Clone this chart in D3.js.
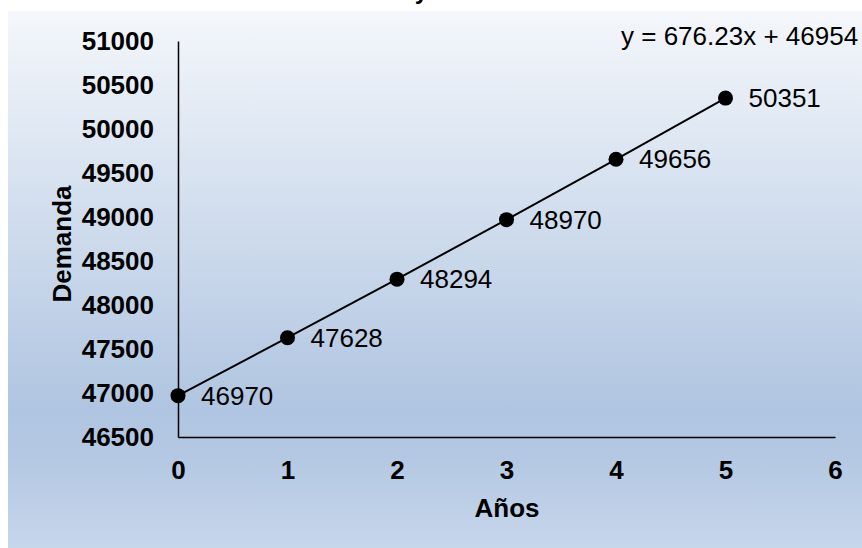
<!DOCTYPE html>
<html>
<head>
<meta charset="utf-8">
<script src="https://cdn.jsdelivr.net/npm/d3@7"></script>
<style>
  body { margin: 0; background: #ffffff; }
  svg { display: block; font-family: "Liberation Sans", Arial, sans-serif; }
</style>
</head>
<body>
<div id="chart"></div>
<script>
// Datos del gráfico
var years = [0, 1, 2, 3, 4, 5];
var demand = [46970, 47628, 48294, 48970, 49656, 50351];
var xTicks = [0, 1, 2, 3, 4, 5, 6];
var yTicks = [46500, 47000, 47500, 48000, 48500, 49000, 49500, 50000, 50500, 51000];
var titleText = "Gráfico N° 1: Proyección de la demanda";
var equationText = "y = 676.23x + 46954";
var xTitle = "Años";
var yTitle = "Demanda";

function plotChart() {
    var width = 862, height = 548;
    var plot = { left: 178, right: 835, top: 41, bottom: 437 };
    var fontSize = "26px";

    var svg = d3.select("#chart").append("svg")
      .attr("width", width)
      .attr("height", height);

    var grad = svg.append("defs").append("linearGradient")
      .attr("id", "bg")
      .attr("x1", 0).attr("y1", 0).attr("x2", 0).attr("y2", 1);
    grad.append("stop").attr("offset", "0").attr("stop-color", "#f4f7fb");
    grad.append("stop").attr("offset", "0.74").attr("stop-color", "#b0c5e1");
    grad.append("stop").attr("offset", "0.83").attr("stop-color", "#b4c8e3");
    grad.append("stop").attr("offset", "1").attr("stop-color", "#c6d6eb");

    svg.append("rect")
      .attr("x", 8).attr("y", 11)
      .attr("width", width - 8).attr("height", height - 11)
      .attr("fill", "url(#bg)");

    // title, mostly cut off by the top of the picture (as in the reference)
    svg.append("text")
      .attr("x", 450).attr("y", -1)
      .attr("text-anchor", "middle")
      .style("font-size", "24px")
      .style("font-weight", "bold")
      .text(titleText);

    var x = d3.scaleLinear().domain([0, 6]).range([plot.left, plot.right]);
    var y = d3.scaleLinear().domain([46500, 51000]).range([plot.bottom, plot.top]);

    var yAxis = svg.append("g")
      .attr("transform", "translate(" + plot.left + ",0)")
      .call(d3.axisLeft(y).tickValues(yTicks).tickSize(0).tickPadding(24)
        .tickFormat(d3.format("d")));
    yAxis.selectAll("text")
      .style("font-size", fontSize).style("font-weight", "bold")
      .attr("fill", "#000").attr("font-family", null);
    yAxis.select(".domain").attr("stroke", "#000").attr("stroke-width", 1.5);

    var xAxis = svg.append("g")
      .attr("transform", "translate(0," + plot.bottom + ")")
      .call(d3.axisBottom(x).tickValues(xTicks).tickSize(0).tickPadding(24)
        .tickFormat(d3.format("d")));
    xAxis.selectAll("text")
      .style("font-size", fontSize).style("font-weight", "bold")
      .attr("fill", "#000").attr("font-family", null);
    xAxis.select(".domain").attr("stroke", "#000").attr("stroke-width", 1.5);

    var points = years.map(function(d, i) { return { x: d, y: demand[i] }; });

    svg.append("path")
      .datum(points)
      .attr("fill", "none")
      .attr("stroke", "#000")
      .attr("stroke-width", 2)
      .attr("d", d3.line()
        .x(function(d) { return x(d.x); })
        .y(function(d) { return y(d.y); }));

    svg.selectAll("circle.pt")
      .data(points)
      .enter().append("circle")
      .attr("class", "pt")
      .attr("r", 7.5)
      .attr("fill", "#000")
      .attr("cx", function(d) { return x(d.x); })
      .attr("cy", function(d) { return y(d.y); });

    svg.selectAll("text.lbl")
      .data(points)
      .enter().append("text")
      .attr("class", "lbl")
      .attr("x", function(d) { return x(d.x) + 23; })
      .attr("y", function(d) { return y(d.y); })
      .attr("dy", "0.35em")
      .style("font-size", fontSize)
      .text(function(d) { return d.y; });

    svg.append("text")
      .attr("x", 621).attr("y", 45)
      .style("font-size", fontSize)
      .text(equationText);

    svg.append("text")
      .attr("x", 507).attr("y", 517)
      .attr("text-anchor", "middle")
      .style("font-size", fontSize)
      .style("font-weight", "bold")
      .text(xTitle);

    svg.append("text")
      .attr("transform", "translate(71,244) rotate(-90)")
      .attr("text-anchor", "middle")
      .style("font-size", fontSize)
      .style("font-weight", "bold")
      .text(yTitle);
}

plotChart();
</script>
</body>
</html>
